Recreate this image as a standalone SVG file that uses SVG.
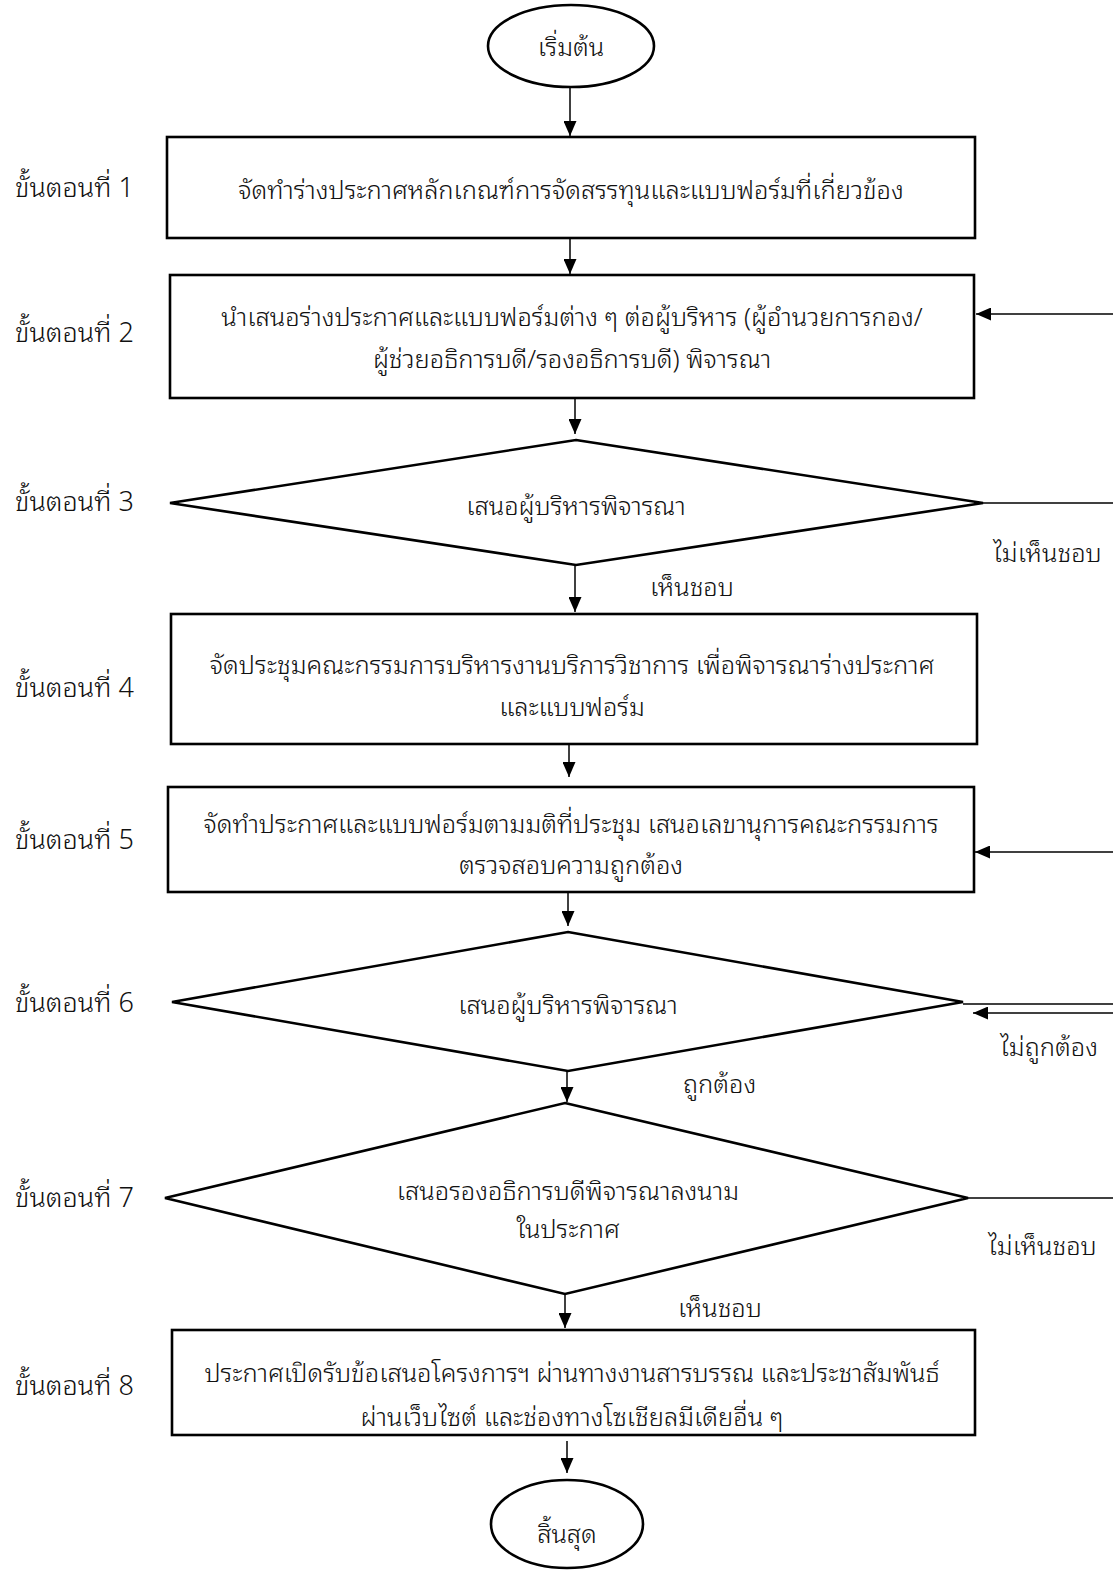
<svg xmlns="http://www.w3.org/2000/svg" width="1113" height="1571" viewBox="0 0 1113 1571">
<defs>
<marker id="ah" viewBox="0 0 15 13" refX="15" refY="6.5" markerWidth="15" markerHeight="13" markerUnits="userSpaceOnUse" orient="auto">
<path d="M0,0 L15,6.5 L0,13 Z" fill="#000"/>
</marker>
</defs>
<style>
.s{fill:#fff;stroke:#000;stroke-width:2.6}
.c{fill:none;stroke:#000;stroke-width:1.5}
.a{marker-end:url(#ah)}
text{font-family:"Noto Sans Thai Looped","Noto Sans Thai","Noto Sans","DejaVu Sans",sans-serif;font-size:25.5px;font-weight:300;fill:#111}
.m{text-anchor:middle}
.l{font-size:27px}
</style>
<rect width="1113" height="1571" fill="#fff"/>
<g id="connectors">
<line class="c a" x1="570" y1="88" x2="570" y2="136"/>
<line class="c a" x1="570" y1="238" x2="570" y2="274"/>
<line class="c a" x1="575" y1="398" x2="575" y2="434"/>
<line class="c a" x1="575" y1="565" x2="575" y2="612"/>
<line class="c a" x1="569" y1="745" x2="569" y2="777"/>
<line class="c a" x1="568" y1="893" x2="568" y2="926"/>
<line class="c a" x1="567" y1="1071" x2="567" y2="1102"/>
<line class="c a" x1="565" y1="1294" x2="565" y2="1328"/>
<line class="c a" x1="567" y1="1441" x2="567" y2="1473"/>
<line class="c a" x1="1113" y1="314" x2="976" y2="314"/>
<line class="c" x1="983" y1="503" x2="1113" y2="503"/>
<line class="c a" x1="1113" y1="852" x2="975" y2="852"/>
<line class="c" x1="963" y1="1004" x2="1113" y2="1004"/>
<line class="c a" x1="1113" y1="1013" x2="973" y2="1013"/>
<line class="c" x1="968" y1="1198" x2="1113" y2="1198"/>
<text x="993" y="562">ไม่เห็นชอบ</text>
<text x="650" y="596">เห็นชอบ</text>
<text x="1000" y="1056">ไม่ถูกต้อง</text>
<text x="683" y="1093">ถูกต้อง</text>
<text x="988" y="1255">ไม่เห็นชอบ</text>
<text x="678" y="1317">เห็นชอบ</text>
</g>
<g id="start">
<ellipse class="s" cx="571" cy="46" rx="83" ry="41"/>
<text class="m" x="571" y="56">เริ่มต้น</text>
</g>
<g id="step1">
<text class="l" x="15" y="197">ขั้นตอนที่ 1</text>
<rect class="s" x="167" y="137" width="808" height="101"/>
<text class="m" x="571" y="199">จัดทำร่างประกาศหลักเกณฑ์การจัดสรรทุนและแบบฟอร์มที่เกี่ยวข้อง</text>
</g>
<g id="step2">
<text class="l" x="15" y="342">ขั้นตอนที่ 2</text>
<rect class="s" x="170" y="275" width="804" height="123"/>
<text class="m" x="572" y="326">นำเสนอร่างประกาศและแบบฟอร์มต่าง ๆ ต่อผู้บริหาร (ผู้อำนวยการกอง/</text>
<text class="m" x="572" y="368">ผู้ช่วยอธิการบดี/รองอธิการบดี) พิจารณา</text>
</g>
<g id="step3">
<text class="l" x="15" y="511">ขั้นตอนที่ 3</text>
<polygon class="s" points="576,440 983,503 576,565 170,503"/>
<text class="m" x="576" y="515">เสนอผู้บริหารพิจารณา</text>
</g>
<g id="step4">
<text class="l" x="15" y="697">ขั้นตอนที่ 4</text>
<rect class="s" x="171" y="614" width="806" height="130"/>
<text class="m" x="572" y="674">จัดประชุมคณะกรรมการบริหารงานบริการวิชาการ เพื่อพิจารณาร่างประกาศ</text>
<text class="m" x="572" y="716">และแบบฟอร์ม</text>
</g>
<g id="step5">
<text class="l" x="15" y="849">ขั้นตอนที่ 5</text>
<rect class="s" x="168" y="787" width="806" height="105"/>
<text class="m" x="571" y="833">จัดทำประกาศและแบบฟอร์มตามมติที่ประชุม เสนอเลขานุการคณะกรรมการ</text>
<text class="m" x="571" y="874">ตรวจสอบความถูกต้อง</text>
</g>
<g id="step6">
<text class="l" x="15" y="1012">ขั้นตอนที่ 6</text>
<polygon class="s" points="568,932 963,1002 568,1071 172,1002"/>
<text class="m" x="568" y="1014">เสนอผู้บริหารพิจารณา</text>
</g>
<g id="step7">
<text class="l" x="15" y="1207">ขั้นตอนที่ 7</text>
<polygon class="s" points="565,1103 968,1198 565,1294 165,1198"/>
<text class="m" x="568" y="1200">เสนอรองอธิการบดีพิจารณาลงนาม</text>
<text class="m" x="568" y="1238">ในประกาศ</text>
</g>
<g id="step8">
<text class="l" x="15" y="1395">ขั้นตอนที่ 8</text>
<rect class="s" x="172" y="1330" width="803" height="105"/>
<text class="m" x="572" y="1382">ประกาศเปิดรับข้อเสนอโครงการฯ ผ่านทางงานสารบรรณ และประชาสัมพันธ์</text>
<text class="m" x="572" y="1426">ผ่านเว็บไซต์ และช่องทางโซเชียลมีเดียอื่น ๆ</text>
</g>
<g id="end">
<ellipse class="s" cx="567" cy="1524" rx="76" ry="44"/>
<text class="m" x="567" y="1543">สิ้นสุด</text>
</g>
</svg>
